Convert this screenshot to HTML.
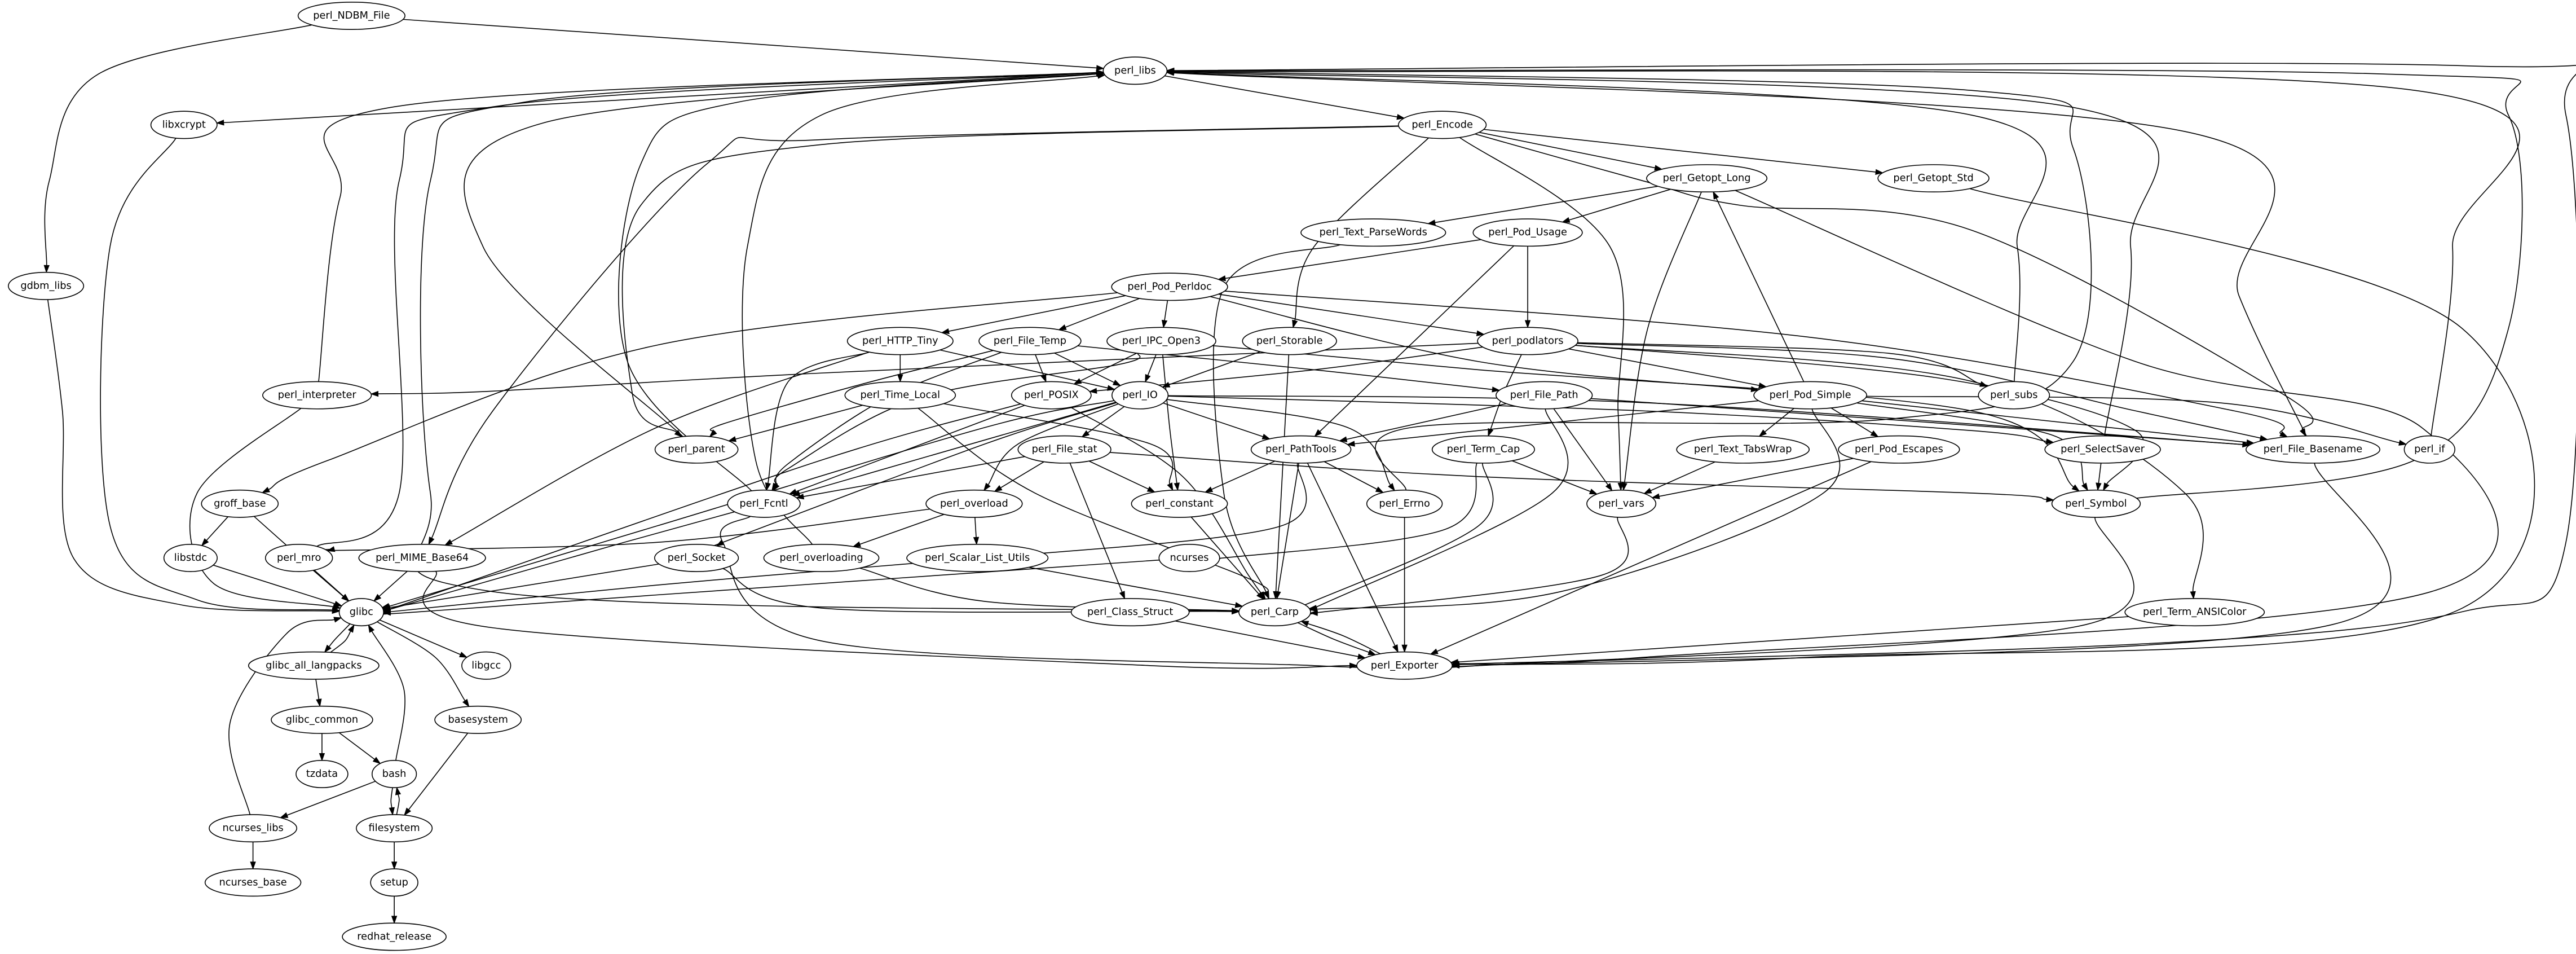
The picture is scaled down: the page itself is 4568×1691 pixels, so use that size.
<!DOCTYPE html>
<html><head><meta charset="utf-8"><style>
html,body{margin:0;padding:0;background:#fff;}
svg{display:block;}
text{font-family:"DejaVu Sans","Liberation Sans",sans-serif;font-size:6.1px;text-anchor:middle;dominant-baseline:central;fill:#000;}
</style></head><body>
<svg id="s" width="4568" height="1691" viewBox="0 0 4568 1691" xmlns="http://www.w3.org/2000/svg">
<rect width="4568" height="1691" fill="#fff"/>
<g transform="scale(2.913)">
<g id="edges" fill="none" stroke="#000" stroke-width="0.55"></g>
<g id="heads" fill="#000" stroke="#000" stroke-width="0.4"></g>
<g id="ells" fill="#fff" stroke="#000" stroke-width="0.55"></g>
<g id="labels">
<text id="perl_NDBM_File" x="214" y="9.6">perl_NDBM_File</text>
<text id="perl_libs" x="691" y="43">perl_libs</text>
<text id="libxcrypt" x="112" y="76">libxcrypt</text>
<text id="perl_Encode" x="878" y="76">perl_Encode</text>
<text id="perl_Getopt_Long" x="1039" y="108.5">perl_Getopt_Long</text>
<text id="perl_Getopt_Std" x="1177" y="108.5">perl_Getopt_Std</text>
<text id="perl_Text_ParseWords" x="836" y="141.5">perl_Text_ParseWords</text>
<text id="perl_Pod_Usage" x="930" y="141.5">perl_Pod_Usage</text>
<text id="gdbm_libs" x="28" y="174">gdbm_libs</text>
<text id="perl_Pod_Perldoc" x="712" y="174.5">perl_Pod_Perldoc</text>
<text id="perl_HTTP_Tiny" x="548" y="207.5">perl_HTTP_Tiny</text>
<text id="perl_File_Temp" x="627" y="207.5">perl_File_Temp</text>
<text id="perl_IPC_Open3" x="707" y="207.5">perl_IPC_Open3</text>
<text id="perl_Storable" x="785" y="207.5">perl_Storable</text>
<text id="perl_podlators" x="930" y="207.5">perl_podlators</text>
<text id="perl_interpreter" x="193" y="240.5">perl_interpreter</text>
<text id="perl_Time_Local" x="548" y="240.5">perl_Time_Local</text>
<text id="perl_POSIX" x="640" y="240.5">perl_POSIX</text>
<text id="perl_IO" x="694" y="240.5">perl_IO</text>
<text id="perl_File_Path" x="940" y="240.5">perl_File_Path</text>
<text id="perl_Pod_Simple" x="1102" y="240.5">perl_Pod_Simple</text>
<text id="perl_subs" x="1226" y="240.5">perl_subs</text>
<text id="perl_parent" x="424" y="273.5">perl_parent</text>
<text id="perl_File_stat" x="648" y="273.5">perl_File_stat</text>
<text id="perl_PathTools" x="792" y="273.5">perl_PathTools</text>
<text id="perl_Term_Cap" x="903" y="273.5">perl_Term_Cap</text>
<text id="perl_Text_TabsWrap" x="1061" y="273.5">perl_Text_TabsWrap</text>
<text id="perl_Pod_Escapes" x="1156" y="273.5">perl_Pod_Escapes</text>
<text id="perl_SelectSaver" x="1280" y="273.5">perl_SelectSaver</text>
<text id="perl_File_Basename" x="1408" y="273.5">perl_File_Basename</text>
<text id="perl_if" x="1479" y="273.5">perl_if</text>
<text id="groff_base" x="146" y="306.5">groff_base</text>
<text id="perl_Fcntl" x="465" y="306.5">perl_Fcntl</text>
<text id="perl_overload" x="593" y="306.5">perl_overload</text>
<text id="perl_constant" x="718" y="306.5">perl_constant</text>
<text id="perl_Errno" x="855" y="306.5">perl_Errno</text>
<text id="perl_vars" x="987" y="306.5">perl_vars</text>
<text id="perl_Symbol" x="1276" y="306.5">perl_Symbol</text>
<text id="libstdc" x="116" y="339.5">libstdc</text>
<text id="perl_mro" x="182" y="339.5">perl_mro</text>
<text id="perl_MIME_Base64" x="257" y="339.5">perl_MIME_Base64</text>
<text id="perl_Socket" x="424" y="339.5">perl_Socket</text>
<text id="perl_overloading" x="500" y="339.5">perl_overloading</text>
<text id="perl_Scalar_List_Utils" x="595" y="339.5">perl_Scalar_List_Utils</text>
<text id="ncurses" x="724" y="339.5">ncurses</text>
<text id="glibc" x="220" y="372.5">glibc</text>
<text id="perl_Class_Struct" x="688" y="372.5">perl_Class_Struct</text>
<text id="perl_Carp" x="776" y="372.5">perl_Carp</text>
<text id="perl_Term_ANSIColor" x="1336" y="372.5">perl_Term_ANSIColor</text>
<text id="glibc_all_langpacks" x="191" y="405">glibc_all_langpacks</text>
<text id="libgcc" x="296" y="405">libgcc</text>
<text id="perl_Exporter" x="855" y="405">perl_Exporter</text>
<text id="glibc_common" x="196" y="438">glibc_common</text>
<text id="basesystem" x="291" y="438">basesystem</text>
<text id="tzdata" x="196" y="471">tzdata</text>
<text id="bash" x="240" y="471">bash</text>
<text id="ncurses_libs" x="154" y="504">ncurses_libs</text>
<text id="filesystem" x="240" y="504">filesystem</text>
<text id="ncurses_base" x="154" y="537">ncurses_base</text>
<text id="setup" x="240" y="537">setup</text>
<text id="redhat_release" x="240" y="570">redhat_release</text>
</g>
</g>
</svg>
<script>
(function(){
var NS="http://www.w3.org/2000/svg";
var N={};
var labels=document.getElementById("labels").getElementsByTagName("text");
var ells=document.getElementById("ells");
for(var i=0;i<labels.length;i++){
 var t=labels[i];var w;
 try{w=t.getComputedTextLength();}catch(e){w=0;}
 if(!w||w<1)w=t.textContent.length*3.4;
 var rx=Math.max(w/2*1.22+4,13.5),ry=8.3;
 var nm=t.id.replace(/^perl_/,"");
 N[t.id]=N[nm]={x:+t.getAttribute("x"),y:+t.getAttribute("y"),rx:rx,ry:ry};
 var e=document.createElementNS(NS,"ellipse");
 e.setAttribute("cx",t.getAttribute("x"));e.setAttribute("cy",t.getAttribute("y"));
 e.setAttribute("rx",rx);e.setAttribute("ry",ry);ells.appendChild(e);
}
function clip(n,px,py){var dx=px-n.x,dy=py-n.y;var k=1/Math.sqrt(dx*dx/(n.rx*n.rx)+dy*dy/(n.ry*n.ry));return [n.x+dx*k,n.y+dy*k];}
var E=[
["NDBM_File","libs"],["NDBM_File","gdbm_libs",[[60,45],[30,110]]],
["libs","libxcrypt"],["libs","Encode"],
["libxcrypt","glibc",[[67,150],[67,320],[120,365]]],
["gdbm_libs","glibc",[[38,250],[45,340],[110,368]]],
["interpreter","libs",[[207,120],[240,65]]],
["interpreter","glibc",[[120,300],[130,355]]],
["mro","libs",[[243,300],[243,110],[300,65]]],["mro","glibc"],
["parent","libs",[[294,150],[330,75]]],
["Fcntl","libs",[[382,220],[390,100],[450,62]]],
["Carp","libs",[[300,360],[262,300],[262,110],[320,62]]],
["overloading","libs",[[460,280],[455,150],[500,70]]],
["Errno","libs",[[860,260],[1150,255],[1262,220],[1262,90],[1200,55]]],
["subs","libs",[[1228,150],[1200,70]]],
["SelectSaver","libs",[[1297,150],[1260,65]]],
["File_Basename","libs",[[1363,180],[1330,80]]],
["if","libs",[[1493,150],[1470,55]]],
["Symbol","libs",[[1470,280],[1527,200],[1527,70],[1450,45]]],
["Exporter","libs",[[1300,392],[1500,372],[1562,330],[1562,70],[1500,40]]],
["Encode","Getopt_Long"],["Encode","Getopt_Std"],["Encode","Storable",[[800,150]]],
["Encode","vars",[[980,150],[985,250]]],
["Encode","File_Basename",[[1000,110],[1060,125],[1200,140],[1390,240]]],
["Encode","MIME_Base64",[[500,85],[430,100],[300,250]]],
["Encode","parent",[[500,88],[390,125],[385,240]]],
["Getopt_Long","Text_ParseWords"],["Getopt_Long","Pod_Usage"],
["Getopt_Long","vars",[[1003,200]]],
["Getopt_Long","Exporter",[[1300,220],[1474,260],[1480,360],[1000,400]]],
["Getopt_Std","Exporter",[[1499,200],[1499,370],[1100,400]]],
["Text_ParseWords","Carp",[[745,175],[745,300]]],
["Pod_Usage","Pod_Perldoc"],["Pod_Usage","podlators"],["Pod_Usage","PathTools"],
["Pod_Perldoc","HTTP_Tiny"],["Pod_Perldoc","File_Temp"],["Pod_Perldoc","IPC_Open3"],["Pod_Perldoc","podlators"],
["Pod_Perldoc","Pod_Simple",[[900,220]]],["Pod_Perldoc","File_Basename",[[1100,205],[1360,250]]],
["Pod_Perldoc","groff_base",[[400,210],[200,280]]],
["HTTP_Tiny","Time_Local"],["HTTP_Tiny","IO"],["HTTP_Tiny","MIME_Base64",[[400,260]]],["HTTP_Tiny","Fcntl",[[480,232]]],
["File_Temp","POSIX"],["File_Temp","IO"],["File_Temp","parent",[[520,235],[440,258]]],
["File_Temp","Fcntl",[[540,242],[480,282]]],["File_Temp","File_Path",[[800,225]]],
["IPC_Open3","POSIX"],["IPC_Open3","IO"],["IPC_Open3","constant",[[712,260]]],
["IPC_Open3","Fcntl",[[680,222],[560,242],[480,285]]],["IPC_Open3","Symbol",[[900,225],[1200,250]]],
["Storable","IO"],["Storable","Carp",[[780,300]]],
["podlators","Pod_Simple"],["podlators","Term_Cap",[[915,240]]],["podlators","POSIX",[[800,225]]],
["podlators","interpreter",[[500,227],[300,238]]],["podlators","subs",[[1150,215]]],
["podlators","File_Basename",[[1150,218],[1300,250]]],["podlators","Symbol",[[1180,230],[1300,262]]],
["podlators","Term_ANSIColor",[[1200,232],[1330,300]]],
["Pod_Simple","Getopt_Long"],["Pod_Simple","Text_TabsWrap"],["Pod_Simple","Pod_Escapes"],["Pod_Simple","PathTools"],
["Pod_Simple","File_Basename"],["Pod_Simple","if",[[1350,245]]],["Pod_Simple","Symbol",[[1250,265]]],
["Pod_Simple","Carp",[[1110,300],[950,360]]],
["IO","File_stat"],["IO","PathTools"],["IO","Fcntl"],["IO","Errno",[[820,260]]],
["IO","SelectSaver",[[1000,250],[1200,262]]],["IO","File_Basename",[[1000,245]]],
["IO","Socket",[[600,270],[440,330]]],["IO","overload",[[620,270]]],
["IO","glibc",[[600,260],[400,320],[240,368]]],
["POSIX","Fcntl"],["POSIX","glibc",[[500,280],[245,368]]],["POSIX","Carp",[[720,290],[760,350]]],
["Time_Local","parent"],["Time_Local","constant",[[700,270]]],["Time_Local","Carp",[[630,300],[760,352]]],
["File_Path","PathTools"],["File_Path","vars"],["File_Path","Carp",[[945,300],[800,370]]],["File_Path","File_Basename"],
["File_stat","Fcntl"],["File_stat","overload"],["File_stat","constant"],["File_stat","Class_Struct"],
["File_stat","Symbol",[[900,290],[1200,300]]],
["PathTools","constant"],["PathTools","Errno"],["PathTools","Exporter"],
["PathTools","Scalar_List_Utils",[[780,320],[620,338]]],["PathTools","Carp"],
["Term_Cap","vars"],["Term_Cap","Carp",[[900,320],[790,370]]],["Term_Cap","ncurses",[[880,322],[740,340]]],
["Text_TabsWrap","vars"],["Pod_Escapes","vars"],["Pod_Escapes","Exporter"],
["SelectSaver","Symbol"],["File_Basename","Exporter",[[1420,380],[900,405]]],
["Symbol","Exporter",[[1270,380],[900,405]]],
["groff_base","libstdc"],["groff_base","glibc"],["libstdc","glibc"],
["Fcntl","glibc",[[380,330],[240,370]]],["Fcntl","Exporter",[[440,330],[500,390],[800,405]]],
["overload","overloading"],["overload","Scalar_List_Utils"],["overload","mro",[[400,330],[200,335]]],
["constant","Carp"],["Errno","Exporter"],["vars","Carp",[[975,350],[800,373]]],
["MIME_Base64","glibc"],["MIME_Base64","Exporter",[[300,382],[700,405]]],
["Socket","glibc"],["Socket","Carp",[[500,370],[740,372]]],
["overloading","Carp",[[600,366]]],
["Scalar_List_Utils","glibc",[[400,356],[240,372]]],["Scalar_List_Utils","Carp"],
["ncurses","glibc",[[400,362],[245,373]]],
["Carp","Exporter",[[812,389]]],["Exporter","Carp",[[818,387]]],
["Class_Struct","Exporter"],["Term_ANSIColor","Exporter"],
["glibc","glibc_all_langpacks",[[204,389]]],["glibc_all_langpacks","glibc",[[210,390]]],
["glibc","libgcc"],["glibc","basesystem",[[265,400]]],
["glibc_all_langpacks","glibc_common"],["glibc_common","tzdata"],["glibc_common","bash"],
["bash","glibc",[[246,420]]],["bash","ncurses_libs"],
["bash","filesystem",[[238,487]]],["filesystem","bash",[[243,487]]],
["basesystem","filesystem"],["ncurses_libs","glibc",[[140,440],[175,385]]],
["ncurses_libs","ncurses_base"],["filesystem","setup"],["setup","redhat_release"]
];
var eg=document.getElementById("edges"),hg=document.getElementById("heads");
var AL=4.2,AW=1.5;
E.forEach(function(ed){
 var s=N[ed[0]],t=N[ed[1]];if(!s||!t)return;
 var via=ed[2]||[];
 var f=via.length?via[0]:[t.x,t.y];
 var l=via.length?via[via.length-1]:[s.x,s.y];
 var a=clip(s,f[0],f[1]);var b=clip(t,l[0],l[1]);
 var dx=b[0]-l[0],dy=b[1]-l[1];var d=Math.sqrt(dx*dx+dy*dy)||1;
 var ux=dx/d,uy=dy/d;
 var bs=[b[0]-ux*AL,b[1]-uy*AL];
 var P=[a].concat(via).concat([bs]);
 var dstr="M"+P[0][0].toFixed(2)+","+P[0][1].toFixed(2);
 if(P.length==2){dstr+="L"+P[1][0].toFixed(2)+","+P[1][1].toFixed(2);}
 else{
  for(var i=0;i<P.length-1;i++){
   var p0=P[Math.max(i-1,0)],p1=P[i],p2=P[i+1],p3=P[Math.min(i+2,P.length-1)];
   var c1=[p1[0]+(p2[0]-p0[0])/6,p1[1]+(p2[1]-p0[1])/6];
   var c2=[p2[0]-(p3[0]-p1[0])/6,p2[1]-(p3[1]-p1[1])/6];
   dstr+="C"+c1[0].toFixed(2)+","+c1[1].toFixed(2)+" "+c2[0].toFixed(2)+","+c2[1].toFixed(2)+" "+p2[0].toFixed(2)+","+p2[1].toFixed(2);
  }
 }
 var p=document.createElementNS(NS,"path");p.setAttribute("d",dstr);eg.appendChild(p);
 var h=document.createElementNS(NS,"polygon");
 h.setAttribute("points",b[0]+","+b[1]+" "+(bs[0]-uy*AW)+","+(bs[1]+ux*AW)+" "+(bs[0]+uy*AW)+","+(bs[1]-ux*AW));
 hg.appendChild(h);
});
})();
</script>
</body></html>
